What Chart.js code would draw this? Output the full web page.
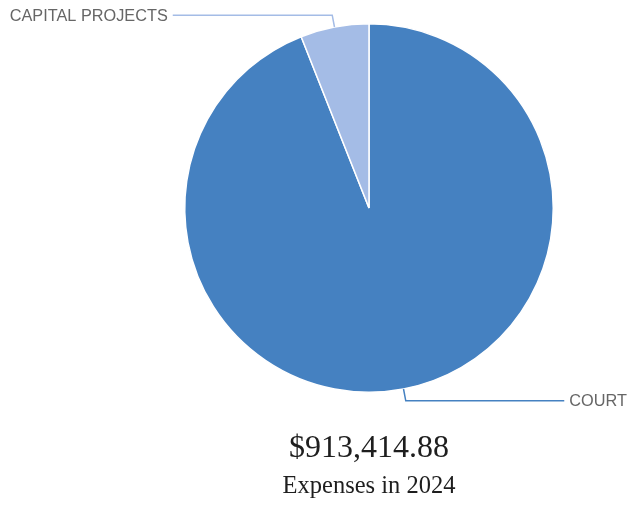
<!DOCTYPE html>
<html>
<head>
<meta charset="utf-8">
<script src="https://cdn.jsdelivr.net/npm/chart.js@4"></script>
<style>
  html, body { margin: 0; padding: 0; background: #fff; }
  #wrap { width: 628px; height: 506px; }
</style>
</head>
<body>
<div id="wrap"><canvas id="myChart"></canvas></div>
<script>
const categories = ['COURT', 'CAPITAL PROJECTS'];
const amounts = [858614.88, 54800.00];
const sliceColors = ['#4581c1', '#a4bce6'];
const subtitleText = 'Expenses in 2024';

function money(v) {
    return '$' + v.toLocaleString('en-US', { minimumFractionDigits: 2, maximumFractionDigits: 2 });
}

// leader lines + labels outside the slices, and the total underneath
const sliceLabels = {
    id: 'sliceLabels',
    afterDraw(chart) {
        const ctx = chart.ctx;
        const arcs = chart.getDatasetMeta(0).data;
        ctx.save();
        arcs.forEach(function(arc, i) {
            const mid = (arc.startAngle + arc.endAngle) / 2;
            const r = arc.outerRadius;
            const x0 = arc.x + Math.cos(mid) * r;
            const y0 = arc.y + Math.sin(mid) * r;
            const x1 = arc.x + Math.cos(mid) * (r + 12);
            const y1 = arc.y + Math.sin(mid) * (r + 12);
            const right = Math.cos(mid) >= 0;
            const x2 = right ? arc.x + r + 11 : arc.x - r - 12;

            ctx.strokeStyle = sliceColors[i];
            ctx.lineWidth = 1.5;
            ctx.beginPath();
            ctx.moveTo(x0, y0);
            ctx.lineTo(x1, y1);
            ctx.lineTo(x2, y1);
            ctx.stroke();

            ctx.fillStyle = '#666';
            ctx.font = '16.3px "Liberation Sans", Arial, sans-serif';
            ctx.textBaseline = 'middle';
            ctx.textAlign = right ? 'left' : 'right';
            ctx.fillText(categories[i], right ? x2 + 5 : x2 - 5, y1 + 1);
        });

        const cx = arcs[0].x;
        const total = amounts.reduce((a, b) => a + b, 0);
        ctx.fillStyle = '#1e1e1e';
        ctx.textAlign = 'center';
        ctx.textBaseline = 'alphabetic';
        ctx.font = '32px "Liberation Serif", "Times New Roman", serif';
        ctx.fillText(money(total), cx, 457);
        ctx.font = '24.5px "Liberation Serif", "Times New Roman", serif';
        ctx.fillText(subtitleText, cx, 493);
        ctx.restore();
    }
};

window.addEventListener('load', function() {
    const ctx = document.getElementById('myChart');
    new Chart(ctx, {
        type: 'pie',
        data: {
            labels: categories,
            datasets: [{
                data: amounts,
                backgroundColor: sliceColors,
                borderColor: '#fff',
                borderWidth: 1.5
            }]
        },
        options: {
            responsive: true,
            maintainAspectRatio: false,
            animation: false,
            layout: {
                padding: { left: 184, right: 74, top: 23, bottom: 113 }
            },
            plugins: {
                legend: { display: false },
                tooltip: { enabled: false }
            }
        },
        plugins: [sliceLabels]
    });
});
</script>
</body>
</html>
